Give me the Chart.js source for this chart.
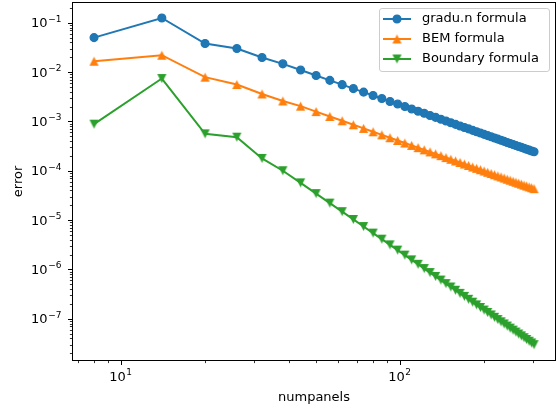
<!DOCTYPE html>
<html>
<head>
<meta charset="utf-8">
<script src="https://cdn.jsdelivr.net/npm/chart.js@4.4.0/dist/chart.umd.min.js"></script>
<style>
  html, body { margin: 0; padding: 0; background: #fff; }
  #wrap { width: 557px; height: 411px; }
</style>
</head>
<body>
<div id="wrap"><canvas id="chart" width="557" height="411"></canvas></div>
<script>
// numpanels on x, error on y (log-log)
const numpanels = [8, 14, 20, 26, 32, 38, 44, 50, 56, 62, 68, 74, 80, 86, 92, 98,
  104, 110, 116, 122, 128, 134, 140, 146, 152, 158, 164, 170, 176, 182, 188, 194,
  200, 206, 212, 218, 224, 230, 236, 242, 248, 254, 260, 266, 272, 278, 284, 290, 296, 302];

const errGradun = [0.050, 0.125, 0.038, 0.030, 0.0197, 0.0147, 0.0110, 0.00851, 0.00680,
  0.00556, 0.00463, 0.00392, 0.00336, 0.00291, 0.00254, 0.00225, 0.00200, 0.00179, 0.00161,
  0.00146, 0.00132, 0.00121, 0.00111, 0.00102, 9.42e-4, 8.72e-4, 8.10e-4, 7.55e-4, 7.05e-4,
  6.59e-4, 6.18e-4, 5.81e-4, 5.47e-4, 5.16e-4, 4.88e-4, 4.61e-4, 4.37e-4, 4.15e-4, 3.94e-4,
  3.75e-4, 3.57e-4, 3.41e-4, 3.25e-4, 3.11e-4, 2.98e-4, 2.85e-4, 2.73e-4, 2.62e-4, 2.52e-4, 2.42e-4];

const errBEM = [0.0166, 0.0220, 0.0079, 0.0056, 0.0036, 0.0026, 0.00204, 1.58e-3, 1.26e-3,
  1.03e-3, 8.54e-4, 7.21e-4, 6.17e-4, 5.34e-4, 4.67e-4, 4.11e-4, 3.65e-4, 3.26e-4, 2.94e-4,
  2.65e-4, 2.41e-4, 2.20e-4, 2.02e-4, 1.85e-4, 1.71e-4, 1.58e-4, 1.47e-4, 1.37e-4, 1.28e-4,
  1.19e-4, 1.12e-4, 1.05e-4, 9.88e-5, 9.31e-5, 8.79e-5, 8.31e-5, 7.87e-5, 7.47e-5, 7.09e-5,
  6.74e-5, 6.42e-5, 6.12e-5, 5.84e-5, 5.58e-5, 5.34e-5, 5.11e-5, 4.90e-5, 4.70e-5, 4.51e-5, 4.33e-5];

const errBoundary = [8.8e-4, 7.4e-3, 5.6e-4, 4.8e-4, 1.78e-4, 1.0e-4, 5.68e-5, 3.44e-5, 2.21e-5,
  1.48e-5, 1.03e-5, 7.40e-6, 5.45e-6, 4.10e-6, 3.15e-6, 2.46e-6, 1.95e-6, 1.56e-6, 1.27e-6,
  1.04e-6, 8.63e-7, 7.21e-7, 6.08e-7, 5.15e-7, 4.40e-7, 3.78e-7, 3.27e-7, 2.84e-7, 2.48e-7,
  2.17e-7, 1.91e-7, 1.69e-7, 1.50e-7, 1.34e-7, 1.195e-7, 1.07e-7, 9.63e-8, 8.68e-8, 7.85e-8,
  7.11e-8, 6.46e-8, 5.89e-8, 5.37e-8, 4.91e-8, 4.50e-8, 4.13e-8, 3.80e-8, 3.50e-8, 3.23e-8, 2.98e-8];

const seriesNames = ['gradu.n formula', 'BEM formula', 'Boundary formula'];
const seriesColors = ['#1f77b4', '#ff7f0e', '#2ca02c'];

// tick labels as [base, exponent] (drawn like mathtext 10^n)
const xMajorTicks = [10, 100];
const xTickLabels = [['10', '1'], ['10', '2']];
const yMajorTicks = [1e-7, 1e-6, 1e-5, 1e-4, 1e-3, 1e-2, 1e-1];
const yTickLabels = [['10', '\u22127'], ['10', '\u22126'], ['10', '\u22125'], ['10', '\u22124'],
  ['10', '\u22123'], ['10', '\u22122'], ['10', '\u22121']];

const FONT = "'DejaVu Sans', sans-serif";
Chart.defaults.color = '#000';
Chart.defaults.font.family = FONT;
Chart.defaults.font.size = 13;

// matplotlib style triangle markers ("^" and "v")
function triangleMarker(color, down) {
  const c = document.createElement('canvas');
  c.width = 11; c.height = 11;
  const g = c.getContext('2d');
  const h = 4.6, m = 5.5;
  g.fillStyle = color;
  g.beginPath();
  if (down) { g.moveTo(m, m + h); g.lineTo(m - h, m - h); g.lineTo(m + h, m - h); }
  else { g.moveTo(m, m - h); g.lineTo(m - h, m + h); g.lineTo(m + h, m + h); }
  g.closePath();
  g.fill();
  return c;
}

const markers = ['circle', triangleMarker(seriesColors[1], false), triangleMarker(seriesColors[2], true)];

function logTicks(min, max) {
  const out = [];
  for (let e = Math.floor(Math.log10(min)); e <= Math.ceil(Math.log10(max)); e++) {
    for (let m = 1; m <= 9; m++) {
      const v = m * Math.pow(10, e);
      if (v >= min && v <= max) out.push({ value: v, major: m === 1 });
    }
  }
  return out;
}

// keep the plot box fixed: no extra padding from edge labels
function fixBox(s, size) {
  if (s.isHorizontal()) s.height = size; else s.width = size;
  s.paddingTop = 0; s.paddingBottom = 0; s.paddingLeft = 0; s.paddingRight = 0;
}

function drawPow(ctx, lab, x, y, align) {
  ctx.font = '13px ' + FONT;
  const wb = ctx.measureText(lab[0]).width;
  ctx.font = '9px ' + FONT;
  const we = ctx.measureText(lab[1]).width;
  const total = wb + 0.6 + we;
  const x0 = align === 'right' ? x - total : x - total / 2;
  ctx.textAlign = 'left';
  ctx.textBaseline = 'alphabetic';
  ctx.font = '13px ' + FONT;
  ctx.fillText(lab[0], x0, y);
  ctx.font = '9px ' + FONT;
  ctx.fillText(lab[1], x0 + wb + 0.6, y - 5.8);
}

// spines, tick marks and tick labels like matplotlib
const axesFrame = {
  id: 'axesFrame',
  afterDraw(chart) {
    const { ctx, chartArea: a, scales: { x, y } } = chart;
    const L = Math.round(a.left) + 0.5, R = Math.round(a.right) - 0.5;
    const T = Math.round(a.top) + 0.5, B = Math.round(a.bottom) - 0.5;
    ctx.save();
    ctx.strokeStyle = '#000';
    ctx.fillStyle = '#000';
    x.ticks.forEach(t => {
      const px = Math.round(x.getPixelForValue(t.value)) + 0.5;
      ctx.lineWidth = t.major ? 1 : 0.8;
      ctx.beginPath();
      ctx.moveTo(px, B);
      ctx.lineTo(px, B + (t.major ? 4.5 : 2.6));
      ctx.stroke();
    });
    y.ticks.forEach(t => {
      const py = Math.round(y.getPixelForValue(t.value)) + 0.5;
      ctx.lineWidth = t.major ? 1 : 0.8;
      ctx.beginPath();
      ctx.moveTo(L, py);
      ctx.lineTo(L - (t.major ? 4.5 : 2.6), py);
      ctx.stroke();
    });
    ctx.lineWidth = 1;
    ctx.strokeRect(L, T, R - L, B - T);

    xMajorTicks.forEach((v, i) => {
      drawPow(ctx, xTickLabels[i], x.getPixelForValue(v) - 0.5, 381, 'center');
    });
    yMajorTicks.forEach((v, i) => {
      drawPow(ctx, yTickLabels[i], 61.5, y.getPixelForValue(v) + 4.6, 'right');
    });
    ctx.restore();
  }
};

const legendBox = {
  id: 'legendBox',
  afterDraw(chart) {
    const ctx = chart.ctx;
    const x0 = 379.5, y0 = 8.5, w = 170, h = 63, r = 2.6;
    ctx.save();
    ctx.beginPath();
    ctx.moveTo(x0 + r, y0);
    ctx.arcTo(x0 + w, y0, x0 + w, y0 + h, r);
    ctx.arcTo(x0 + w, y0 + h, x0, y0 + h, r);
    ctx.arcTo(x0, y0 + h, x0, y0, r);
    ctx.arcTo(x0, y0, x0 + w, y0, r);
    ctx.closePath();
    ctx.fillStyle = 'rgba(255,255,255,0.8)';
    ctx.fill();
    ctx.strokeStyle = '#cccccc';
    ctx.lineWidth = 1;
    ctx.stroke();

    chart.data.datasets.forEach((ds, i) => {
      const cy = 19 + i * 20;
      ctx.strokeStyle = ds.borderColor;
      ctx.lineWidth = 2;
      ctx.beginPath();
      ctx.moveTo(383, cy);
      ctx.lineTo(411, cy);
      ctx.stroke();
      if (ds.pointStyle === 'circle') {
        ctx.beginPath();
        ctx.arc(397, cy, 3.9, 0, Math.PI * 2);
        ctx.fillStyle = ds.borderColor;
        ctx.fill();
        ctx.lineWidth = 1.3;
        ctx.stroke();
      } else {
        ctx.drawImage(ds.pointStyle, 397 - 5.5, cy - 5.5);
      }
      ctx.fillStyle = '#000';
      ctx.font = '13px ' + FONT;
      ctx.textBaseline = 'middle';
      ctx.textAlign = 'left';
      ctx.fillText(ds.label, 422, cy);
    });
    ctx.restore();
  }
};

const allSeries = [errGradun, errBEM, errBoundary];

new Chart(document.getElementById('chart'), {
  type: 'line',
  data: {
    datasets: allSeries.map((vals, i) => ({
      label: seriesNames[i],
      data: numpanels.map((n, k) => ({ x: n, y: vals[k] })),
      borderColor: seriesColors[i],
      backgroundColor: seriesColors[i],
      pointBackgroundColor: seriesColors[i],
      pointBorderColor: seriesColors[i],
      pointStyle: markers[i],
      pointRadius: 3.9,
      pointBorderWidth: 1.3,
      borderWidth: 2,
      tension: 0,
      order: 2 - i
    }))
  },
  options: {
    responsive: false,
    animation: false,
    events: [],
    layout: { autoPadding: false, padding: { top: 2, right: 1, left: 0, bottom: 0 } },
    plugins: { legend: { display: false }, tooltip: { enabled: false } },
    scales: {
      x: {
        type: 'logarithmic',
        bounds: 'data',
        min: 6.67,
        max: 362,
        afterBuildTicks: s => { s.ticks = logTicks(s.min, s.max); },
        afterFit: s => fixBox(s, 50),
        grid: { display: false },
        border: { display: false },
        ticks: { display: false },
        title: { display: true, text: 'numpanels', font: { size: 13 }, padding: { bottom: 6 } }
      },
      y: {
        type: 'logarithmic',
        bounds: 'data',
        min: 1.39e-8,
        max: 0.2636,
        afterBuildTicks: s => { s.ticks = logTicks(s.min, s.max); },
        afterFit: s => fixBox(s, 72),
        grid: { display: false },
        border: { display: false },
        ticks: { display: false },
        title: { display: true, text: 'error', font: { size: 13 }, padding: { top: 11 } }
      }
    }
  },
  plugins: [axesFrame, legendBox]
});
</script>
</body>
</html>
